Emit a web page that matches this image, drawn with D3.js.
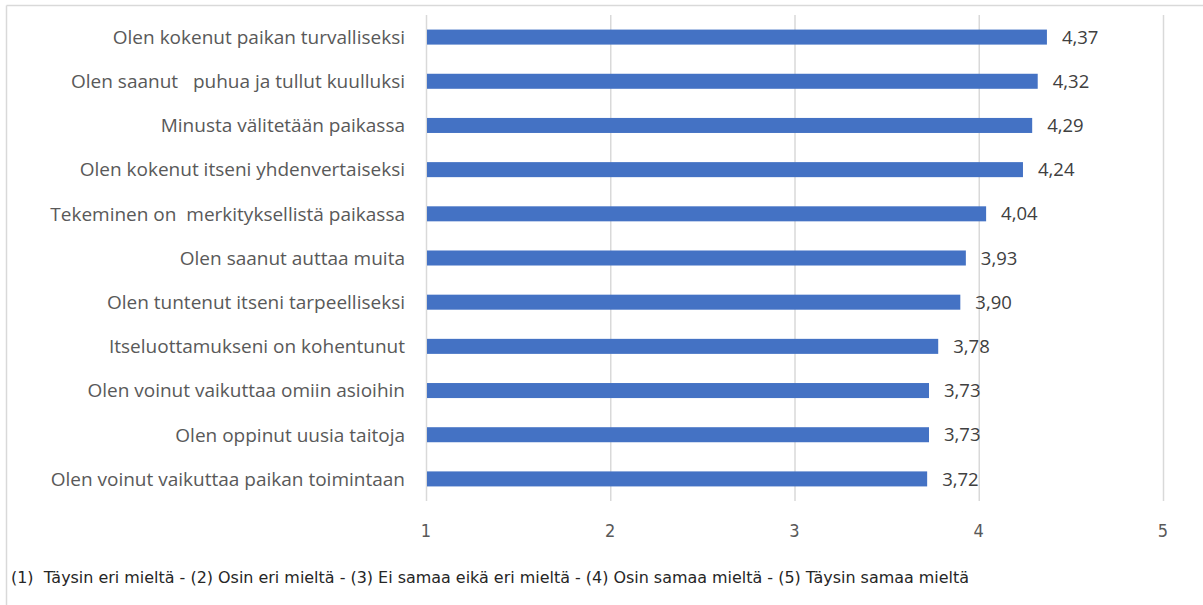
<!DOCTYPE html>
<html><head><meta charset="utf-8">
<script src="https://cdn.jsdelivr.net/npm/d3@7"></script>
<style>body{margin:0;background:#fff;} svg{display:block;}</style>
</head><body>
<svg id="c" width="1203" height="605"></svg>
<script>
const categories = [
  "Olen kokenut paikan turvalliseksi",
  "Olen saanut   puhua ja tullut kuulluksi",
  "Minusta välitetään paikassa",
  "Olen kokenut itseni yhdenvertaiseksi",
  "Tekeminen on  merkityksellistä paikassa",
  "Olen saanut auttaa muita",
  "Olen tuntenut itseni tarpeelliseksi",
  "Itseluottamukseni on kohentunut",
  "Olen voinut vaikuttaa omiin asioihin",
  "Olen oppinut uusia taitoja",
  "Olen voinut vaikuttaa paikan toimintaan"
];
const values = [4.37, 4.32, 4.29, 4.24, 4.04, 3.93, 3.90, 3.78, 3.73, 3.73, 3.72];
const tickValues = [1, 2, 3, 4, 5];
const footnote = "(1)  Täysin eri mieltä - (2) Osin eri mieltä - (3) Ei samaa eikä eri mieltä - (4) Osin samaa mieltä - (5) Täysin samaa mieltä";

const svg = d3.select("#c");
const font = "'Open Sans', sans-serif";
const condensed = "'DejaVu Sans Condensed', 'Liberation Sans Narrow', 'Open Sans', sans-serif";

// chart area border
svg.append("line").attr("x1",6.5).attr("x2",1203).attr("y1",5.5).attr("y2",5.5).attr("stroke","#d9d9d9").attr("stroke-width",1.5);
svg.append("line").attr("x1",6.5).attr("x2",6.5).attr("y1",5.5).attr("y2",605).attr("stroke","#d9d9d9").attr("stroke-width",1.5);

const x = d3.scaleLinear().domain([1,5]).range([426,1163]);
const y = d3.scaleBand().domain(categories).range([15,501]).paddingInner(0.66).paddingOuter(0.33);

// gridlines
svg.append("g").selectAll("line").data(tickValues).join("line")
  .attr("x1",d=>x(d)+0.5).attr("x2",d=>x(d)+0.5).attr("y1",15).attr("y2",501)
  .attr("stroke","#d9d9d9").attr("stroke-width",1.5);

// bars
svg.append("g").selectAll("rect").data(values).join("rect")
  .attr("x",x(1)+1).attr("y",(d,i)=>y(categories[i]))
  .attr("width",d=>x(d)-x(1)-1).attr("height",y.bandwidth())
  .attr("fill","#4472c4");

// value labels
svg.append("g").selectAll("text").data(values).join("text")
  .attr("x",d=>x(d)+15).attr("y",(d,i)=>y(categories[i])+y.bandwidth()/2)
  .attr("dy","0.36em").attr("font-family",font).attr("font-size",18.5).attr("fill","#404040")
  .text(d=>d.toFixed(2).replace(".",","));

// category labels
svg.append("g").selectAll("text").data(categories).join("text")
  .attr("x",405).attr("y",d=>y(d)+y.bandwidth()/2)
  .attr("dy","0.36em").attr("text-anchor","end").attr("font-family",font).attr("font-size",19).attr("fill","#595959")
  .style("white-space","pre").attr("xml:space","preserve")
  .text(d=>d);

// x tick labels
svg.append("g").selectAll("text").data(tickValues).join("text")
  .attr("x",d=>x(d)).attr("y",531).attr("dy","0.36em").attr("text-anchor","middle")
  .attr("font-family",condensed).attr("font-size",18).attr("fill","#595959")
  .text(d=>d);

// footnote
svg.append("text").attr("x",11).attr("y",578).attr("dy","0.36em")
  .attr("font-family",condensed).attr("font-size",15).attr("fill","#262626")
  .attr("textLength",958).attr("lengthAdjust","spacingAndGlyphs")
  .style("white-space","pre").text(footnote);
</script>
</body></html>
